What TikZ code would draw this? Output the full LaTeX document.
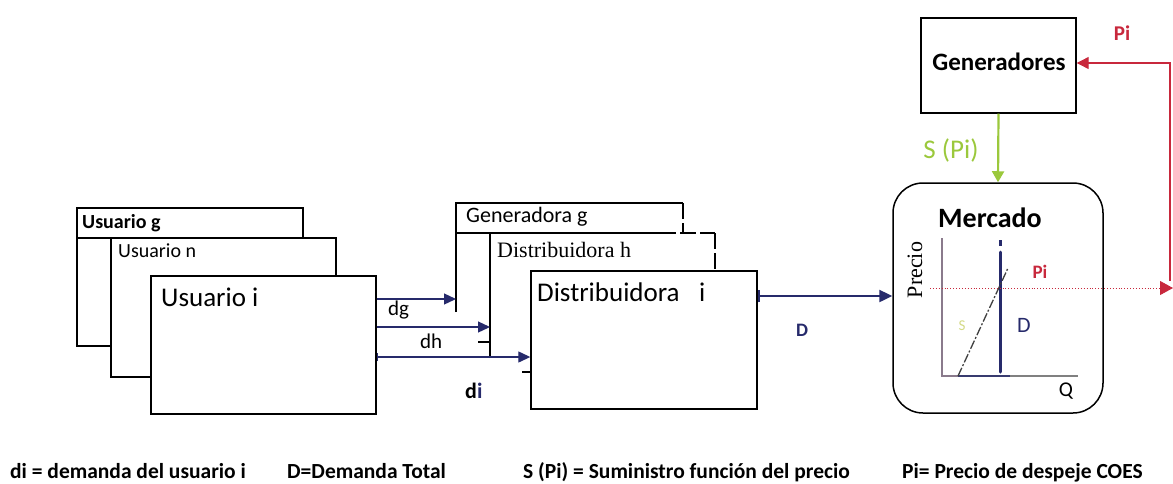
\documentclass[tikz,border=0pt]{standalone}
\usepackage{fontspec}
\setmainfont{Carlito}
\newfontfamily\serifface{Liberation Serif}
\usetikzlibrary{arrows.meta}
\definecolor{navy}{HTML}{262A6B}
\definecolor{pired}{HTML}{C8283C}
\definecolor{supgreen}{HTML}{9BC83C}
\definecolor{slabel}{HTML}{D4DA86}
\definecolor{axisgray}{HTML}{8A7A8C}
\tikzset{
  box/.style={draw=black, line width=1.4pt, fill=white, rectangle, inner sep=0pt},
  frame/.style={draw=black, line width=1.4pt},
  dashframe/.style={draw=black, line width=1.4pt, dash pattern=on 16pt off 4pt},
  flow/.style={draw=navy, line width=1.3pt, -{Triangle[length=12pt,width=11pt]}},
  lbl/.style={inner sep=0pt, anchor=west},
  legend/.style={inner sep=0pt, anchor=base west, font=\fontsize{21.5}{24}\selectfont\bfseries},
}
\begin{document}
\begin{tikzpicture}[x=1pt,y=-1pt]
\useasboundingbox (0,0) rectangle (1173,483);

% --- stack of users ---
\node[box, minimum width=226pt, minimum height=138pt] (ug) at (190,277) {};
\draw[frame] (77,238) -- (303,238);
\node[box, minimum width=225pt, minimum height=139pt] (un) at (223.5,307.5) {};
\node[box, minimum width=225pt, minimum height=138pt] (ui) at (263.5,345) {};
\node[lbl, font=\fontsize{20}{22}\selectfont\bfseries] (tug) at (82,223) {Usuario g};
\node[lbl, font=\fontsize{20}{22}\selectfont] (tun) at (118,251) {Usuario n};
\node[lbl, font=\fontsize{27}{30}\selectfont] (tui) at (161,297) {Usuario i};

% --- stack of distributors ---
\draw[frame] (456,312) -- (456,203) -- (683,203);
\draw[dashframe] (683,203) -- (683,233);
\draw[frame] (456,233) -- (660,233);
\draw[dashframe] (660,233) -- (715,233);
\draw[frame] (490,358) -- (490,233);
\draw[dashframe] (715,233) -- (715,271);
\draw[frame] (478,342) -- (490,342);
\node[box, minimum width=226pt, minimum height=138pt] (dist) at (644,340) {};
\draw[dashframe, line width=1.2pt] (531,271) -- (757,271);
\draw[frame] (522,372) -- (531,372);
\node[lbl, font=\fontsize{22}{24}\selectfont] (tdg) at (466,217) {Generadora g};
\node[lbl, font=\fontsize{22}{24}\serifface] (tdh) at (497,250) {Distribuidora h};
\node[lbl, font=\fontsize{27}{30}\selectfont] (tdi) at (537,292) {Distribuidora};
\node[lbl, font=\fontsize{27}{30}\selectfont] (tdi2) at (699,292) {i};

% --- demand flows ---
\coordinate (gin) at (456,299);
\coordinate (hin) at (490,327);
\draw[flow] (ui.east |- gin) -- (gin);
\draw[flow] (ui.east |- hin) -- (hin);
\draw[flow, |-{Triangle[length=12pt,width=11pt]}] (ui.east |- 0,357) -- (dist.west |- 0,357);
\node[lbl, font=\fontsize{21}{23}\selectfont] (ldg) at (388,310) {dg};
\node[lbl, font=\fontsize{21}{23}\selectfont] (ldh) at (420,341) {dh};
\node[lbl, font=\fontsize{22}{24}\selectfont\bfseries] (ldi) at (465,391) {d\textcolor{navy}{i}};

% --- market ---
\node[draw=black, line width=1.5pt, rounded corners=30pt, minimum width=210pt, minimum height=230pt, fill=white] (merc) at (998,298) {};
\node[font=\fontsize{28}{31}\selectfont\bfseries, inner sep=0pt] (tmerc) at (990,218) {Mercado};
\draw[flow, line width=2.4pt, |-{Triangle[length=13pt,width=12pt]}] (dist.east |- 0,296) -- (merc.west |- 0,296);
\node[font=\fontsize{19}{21}\selectfont\bfseries, text=navy, inner sep=0pt] (lD) at (802,330) {D};

% price chart
\coordinate (o) at (942,376);
\draw[axisgray, line width=1.6pt] (942,238) -- (o) -- (958,376);
\draw[navy!80!gray, line width=1.6pt] (958,376) -- (1010,376);
\draw[gray, line width=1.6pt] (1010,376) -- (1078,376);
\node[font=\fontsize{22}{24}\serifface, rotate=90, inner sep=0pt] (tprecio) at (915,270) {Precio};
\node[font=\fontsize{21}{23}\selectfont, inner sep=0pt] (tq) at (1066,391) {Q};
\draw[navy, line width=3pt, line cap=round] (1000,252) -- (1000,372);
\draw[navy, line width=3pt] (1000,240) -- (1000,246);
\draw[black!75, line width=1.3pt, dash pattern=on 9pt off 2pt on 2pt off 2pt] (958,376) -- (1008,268);
\node[font=\fontsize{15}{17}\selectfont, text=slabel, inner sep=0pt] (tS) at (962,326) {S};
\node[font=\fontsize{22}{24}\selectfont, text=navy, inner sep=0pt] (tD) at (1024,325) {D};
\node[font=\fontsize{19}{21}\selectfont\bfseries, text=pired, inner sep=0pt] (tpi) at (1040,272) {Pi};

% clearing price back to generators
\coordinate (pend) at (1173,288);
\draw[pired, line width=0.9pt, dotted, -{Triangle[length=13pt,width=14pt]}] (930,288) -- (pend);
\node[box, minimum width=155pt, minimum height=95pt] (gen) at (998.5,65.5) {};
\node[font=\fontsize{25}{28}\selectfont\bfseries, inner sep=0pt] (tgen) at (999,62) {Generadores};
\draw[pired, line width=1.2pt, -{Triangle[length=12pt,width=12pt]}] (1170,281) -- (1170,63) -- (gen.east |- 0,63);
\node[font=\fontsize{21}{23}\selectfont\bfseries, text=pired, inner sep=0pt] (tpi2) at (1122,33) {Pi};

% supply function
\draw[supgreen, line width=2.2pt, -{Triangle[length=11pt,width=12pt]}] (gen.south) -- (merc.north);
\node[font=\fontsize{27}{30}\selectfont, text=supgreen, inner sep=0pt] (tspi) at (951,150) {S (Pi)};

% legend
\node[legend] (leg1) at (10,478) {di = demanda del usuario i};
\node[legend] (leg2) at (287,478) {D=Demanda Total};
\node[legend] (leg3) at (523,478) {S (Pi) = Suministro función del precio};
\node[legend] (leg4) at (902,478) {Pi= Precio de despeje COES};
\end{tikzpicture}
\end{document}
